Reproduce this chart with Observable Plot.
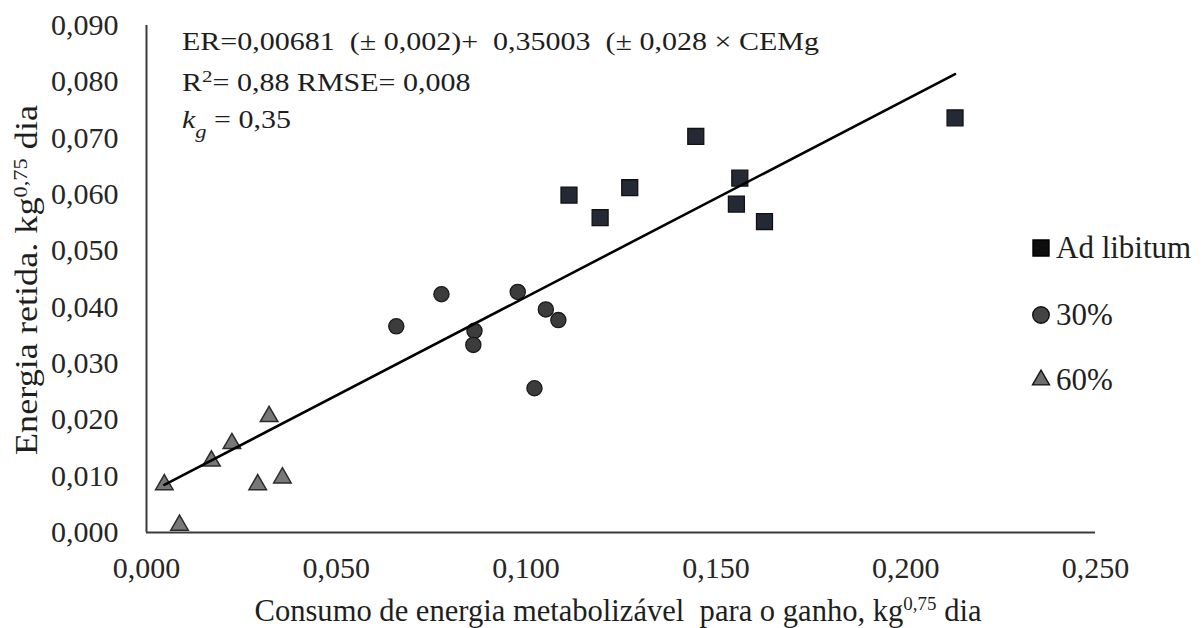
<!DOCTYPE html>
<html>
<head>
<meta charset="utf-8">
<script src="https://cdn.jsdelivr.net/npm/d3@7"></script>
<script src="https://cdn.jsdelivr.net/npm/@observablehq/plot@0.6"></script>
<style>
  html, body { margin: 0; padding: 0; background: #fff; }
  #chart svg { display: block; }
</style>
</head>
<body>
<div id="chart"></div>
<script>
// ---- Data ----
const adLibX = [0.1113, 0.1195, 0.1273, 0.1447, 0.1563, 0.1554, 0.1628, 0.2130];
const adLibY = [0.0599, 0.0559, 0.0612, 0.0703, 0.0629, 0.0583, 0.0552, 0.0736];

const p30X = [0.0658, 0.0777, 0.0864, 0.0861, 0.0978, 0.1052, 0.1085, 0.1022];
const p30Y = [0.0366, 0.0423, 0.0358, 0.0333, 0.0427, 0.0396, 0.0377, 0.0256];

const p60X = [0.0047, 0.0087, 0.0171, 0.0225, 0.0323, 0.0293, 0.0358];
const p60Y = [0.0085, 0.0013, 0.0127, 0.0158, 0.0206, 0.0085, 0.0097];

// Fitted equation printed on the chart
const fitIntercept = 0.00681;
const fitSlope = 0.35003;

const seriesNames = ["Ad libitum", "30%", "60%"];
const xTicks = [0, 0.05, 0.10, 0.15, 0.20, 0.25];
const yTicks = [0, 0.01, 0.02, 0.03, 0.04, 0.05, 0.06, 0.07, 0.08, 0.09];

const eqLine1 = "ER=0,00681  (± 0,002)+  0,35003  (± 0,028 × CEMg";
const xTitle = "Consumo de energia metabolizável  para o ganho, kg";
const yTitle = "Energia retida. kg";
const unitSup = "0,75";
const unitTail = " dia";

// ---- Build tables ----
const zip = (xs, ys) => xs.map((x, i) => ({x, y: ys[i]}));
const adLib = zip(adLibX, adLibY);
const p30 = zip(p30X, p30Y);
const p60 = zip(p60X, p60Y);
const allX = [...adLibX, ...p30X, ...p60X];
const [xMin, xMax] = d3.extent(allX);
const fitLine = [xMin, xMax].map(x => ({x, y: fitIntercept + fitSlope * x}));

const fmt = d => d.toFixed(3).replace(".", ",");
const font = "'Liberation Serif', 'Times New Roman', serif";

const chart = Plot.plot({
  width: 1203,
  height: 628,
  marginLeft: 146,
  marginRight: 108,
  marginTop: 25,
  marginBottom: 96,
  style: {fontFamily: font, fontSize: "30px", color: "#262626", background: "#fff"},
  x: {domain: [0, 0.25]},
  y: {domain: [0, 0.09]},
  marks: [
    Plot.axisY(yTicks, {tickSize: 0, tickPadding: 28, tickFormat: fmt, label: null, fontSize: 30}),
    Plot.axisX(xTicks, {tickSize: 0, tickPadding: 24, tickFormat: fmt, label: null, fontSize: 30}),
    Plot.ruleX([0], {stroke: "#3a3a3a", strokeWidth: 2}),
    Plot.ruleY([0], {stroke: "#3a3a3a", strokeWidth: 2}),
    Plot.dot(p60, {x: "x", y: "y", symbol: "triangle", r: 6.5, fill: "#787878", stroke: "#2b2b2b", strokeWidth: 1.5}),
    Plot.dot(p30, {x: "x", y: "y", symbol: "circle", r: 7.6, fill: "#3c3c3c", stroke: "#1a1a1a", strokeWidth: 1.3}),
    Plot.dot(adLib, {x: "x", y: "y", symbol: "square", r: 9, fill: "#232a36", stroke: "#111", strokeWidth: 1.3}),
    Plot.line(fitLine, {x: "x", y: "y", stroke: "#000", strokeWidth: 2.6})
  ]
});

document.getElementById("chart").appendChild(chart);

// ---- Annotations, titles and legend ----
const svg = d3.select(chart);
const ink = "#1e1e1e";

// Equation block
const eq = svg.append("g")
  .attr("transform", "translate(182,0) scale(1.2,1)")
  .attr("font-family", font)
  .attr("font-size", 25)
  .attr("fill", ink)
  .attr("text-anchor", "start")
  .style("white-space", "pre");
eq.append("text").attr("x", 0).attr("y", 50).text(eqLine1);
const l2 = eq.append("text").attr("x", 0).attr("y", 91);
l2.append("tspan").text("R");
l2.append("tspan").attr("baseline-shift", "super").attr("font-size", "70%").text("2");
l2.append("tspan").text("= 0,88 RMSE= 0,008");
const l3 = eq.append("text").attr("x", 0).attr("y", 128);
l3.append("tspan").attr("font-style", "italic").text("k");
l3.append("tspan").attr("font-style", "italic").attr("baseline-shift", "sub").attr("font-size", "75%").text("g");
l3.append("tspan").text(" = 0,35");

// X title
const xt = svg.append("text")
  .attr("x", 618).attr("y", 621)
  .attr("text-anchor", "middle")
  .attr("font-family", font).attr("font-size", 32).attr("fill", ink)
  .attr("textLength", 727).attr("lengthAdjust", "spacingAndGlyphs")
  .style("white-space", "pre");
xt.append("tspan").text(xTitle);
xt.append("tspan").attr("baseline-shift", "super").attr("font-size", "62%").text(unitSup);
xt.append("tspan").text(unitTail);

// Y title
const yt = svg.append("text")
  .attr("transform", "translate(37,280) rotate(-90)")
  .attr("text-anchor", "middle")
  .attr("font-family", font).attr("font-size", 31).attr("fill", ink)
  .attr("textLength", 350).attr("lengthAdjust", "spacingAndGlyphs")
  .style("white-space", "pre");
yt.append("tspan").text(yTitle);
yt.append("tspan").attr("baseline-shift", "super").attr("font-size", "62%").text(unitSup);
yt.append("tspan").text(unitTail);

// Legend
const legendItems = [
  {name: seriesNames[0], type: d3.symbolSquare, size: 256, fill: "#0d0d0d", stroke: "#000", cy: 248},
  {name: seriesNames[1], type: d3.symbolCircle, size: 215, fill: "#444", stroke: "#111", cy: 315},
  {name: seriesNames[2], type: d3.symbolTriangle, size: 125, fill: "#6e6e6e", stroke: "#151515", cy: 380}
];
const lg = svg.append("g").attr("font-family", font).attr("font-size", 31).attr("fill", ink).attr("text-anchor", "start");
legendItems.forEach(it => {
  lg.append("path")
    .attr("transform", `translate(1041,${it.cy})`)
    .attr("d", d3.symbol().type(it.type).size(it.size)())
    .attr("fill", it.fill).attr("stroke", it.stroke).attr("stroke-width", 1.4);
  lg.append("text").attr("x", 1056).attr("y", it.cy + 10).text(it.name);
});
</script>
</body>
</html>
